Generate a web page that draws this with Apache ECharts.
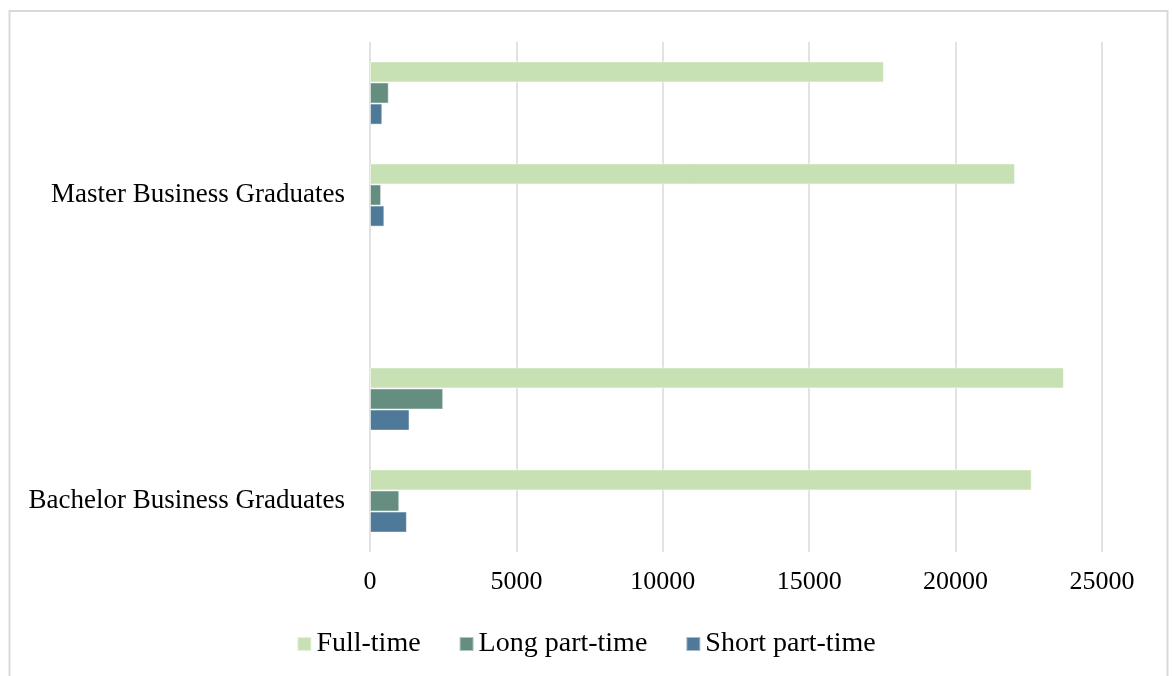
<!DOCTYPE html>
<html lang="en">

<head>
    <meta charset="UTF-8">
    <title>Business graduates by study mode</title>
    <style>
        html,
        body {
            height: 100%;
            margin: 0;
            padding: 0;
            background: #fff;
        }

        #main {
            width: 1172px;
            height: 676px;
        }
    </style>
    <script src="https://cdn.jsdelivr.net/npm/echarts@6/dist/echarts.min.js"></script>
</head>

<body>
    <div id="main"></div>
    <script>
        // rows from bottom to top, blank rows keep the spacing of the original sheet
        var categories = ['Bachelor Business Graduates', '', '', 'Master Business Graduates', ''];
        var fullTime = [22600, 23700, null, 22030, 17550];
        var longPartTime = [1000, 2500, null, 380, 640];
        var shortPartTime = [1260, 1350, null, 490, 420];
        var xTicks = [0, 5000, 10000, 15000, 20000, 25000];

        var font = '"Liberation Serif", "DejaVu Serif", serif';
        var chartDom = document.getElementById('main');
        var myChart = echarts.init(chartDom);

        function barSeries(name, values, color) {
            return {
                name: name,
                type: 'bar',
                data: values,
                barGap: '0%',
                barCategoryGap: '38%',
                itemStyle: {
                    color: color,
                    borderColor: 'rgba(255,255,255,0.5)',
                    borderWidth: 1
                }
            };
        }

        var option = {
            animation: false,
            graphic: [
                {
                    // light frame round the chart, bottom edge runs off the picture
                    type: 'rect',
                    shape: { x: 9.5, y: 11, width: 1158, height: 700 },
                    style: { fill: 'none', stroke: '#D9D9D9', lineWidth: 2 },
                    silent: true
                }
            ],
            legend: {
                data: ['Full-time', 'Long part-time', 'Short part-time'],
                left: 'center',
                top: 625,
                itemWidth: 14,
                itemHeight: 14,
                itemGap: 38,
                icon: 'rect',
                textStyle: {
                    fontFamily: font,
                    fontSize: 28,
                    color: '#000'
                }
            },
            grid: {
                left: 370,
                right: 70,
                top: 42,
                bottom: 124,
                containLabel: false
            },
            xAxis: {
                type: 'value',
                min: xTicks[0],
                max: xTicks[xTicks.length - 1],
                interval: 5000,
                axisLine: { show: false },
                axisTick: { show: false },
                axisLabel: {
                    margin: 17,
                    fontFamily: font,
                    fontSize: 26,
                    color: '#000',
                    formatter: function (value) {
                        return String(value);
                    }
                },
                splitLine: {
                    lineStyle: { color: '#D9D9D9', width: 1.5 }
                }
            },
            yAxis: {
                type: 'category',
                data: categories,
                axisLine: { show: false },
                axisTick: { show: false },
                axisLabel: {
                    interval: 0,
                    margin: 25,
                    fontFamily: font,
                    fontSize: 27,
                    color: '#000'
                }
            },
            series: [
                barSeries('Full-time', fullTime, '#C7E1B4'),
                barSeries('Long part-time', longPartTime, '#658E80'),
                barSeries('Short part-time', shortPartTime, '#4E7998')
            ]
        };

        myChart.setOption(option);
    </script>
</body>

</html>
